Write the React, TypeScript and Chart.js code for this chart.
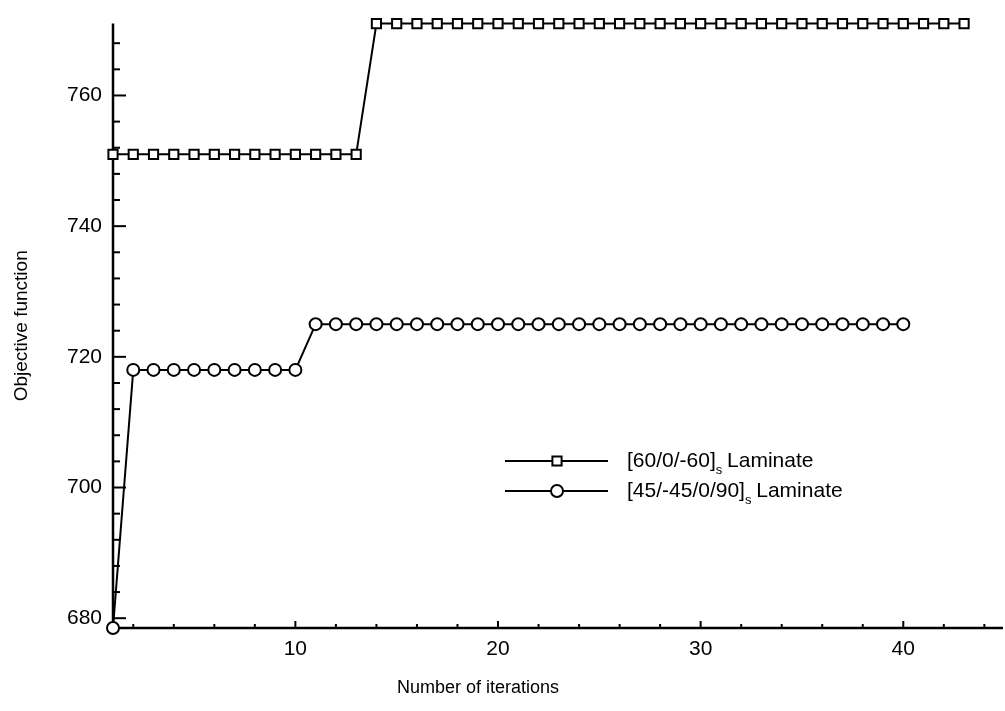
import React, { useEffect, useRef } from 'react';
import { Chart, registerables } from 'chart.js';

Chart.register(...registerables);

// ---- data ----
const iterationsA = [1, 2, 3, 4, 5, 6, 7, 8, 9, 10, 11, 12, 13, 14, 15, 16, 17, 18, 19, 20, 21, 22, 23, 24, 25, 26, 27, 28, 29, 30, 31, 32, 33, 34, 35, 36, 37, 38, 39, 40, 41, 42, 43];
const laminateA = [751, 751, 751, 751, 751, 751, 751, 751, 751, 751, 751, 751, 751, 771, 771, 771, 771, 771, 771, 771, 771, 771, 771, 771, 771, 771, 771, 771, 771, 771, 771, 771, 771, 771, 771, 771, 771, 771, 771, 771, 771, 771, 771];
const iterationsB = [1, 2, 3, 4, 5, 6, 7, 8, 9, 10, 11, 12, 13, 14, 15, 16, 17, 18, 19, 20, 21, 22, 23, 24, 25, 26, 27, 28, 29, 30, 31, 32, 33, 34, 35, 36, 37, 38, 39, 40];
const laminateB = [678.5, 718, 718, 718, 718, 718, 718, 718, 718, 718, 725, 725, 725, 725, 725, 725, 725, 725, 725, 725, 725, 725, 725, 725, 725, 725, 725, 725, 725, 725, 725, 725, 725, 725, 725, 725, 725, 725, 725, 725];
const labelA = '[60/0/-60]';
const labelB = '[45/-45/0/90]';
const labelSub = 's';
const labelTail = ' Laminate';
const xTickLabels = [10, 20, 30, 40];
const yTickLabels = [680, 700, 720, 740, 760];
const xMinorTicks = [2, 4, 6, 8, 10, 12, 14, 16, 18, 20, 22, 24, 26, 28, 30, 32, 34, 36, 38, 40, 42, 44];
const yMinorTicks = [680, 684, 688, 692, 696, 700, 704, 708, 712, 716, 720, 724, 728, 732, 736, 740, 744, 748, 752, 756, 760, 764, 768];
const xTitle = 'Number of iterations';
const yTitle = 'Objective function';

const FONT = '"Liberation Sans", Arial, Helvetica, sans-serif';

const axesPlugin = {
  id: 'axesTicks',
  beforeDatasetsDraw(chart: any) {
    const { ctx, chartArea } = chart;
    const xs = chart.scales.x;
    const ys = chart.scales.y;
    ctx.save();
    ctx.strokeStyle = '#000';
    ctx.lineCap = 'butt';
    // axes lines
    ctx.lineWidth = 2.5;
    ctx.beginPath();
    ctx.moveTo(chartArea.left, chartArea.top);
    ctx.lineTo(chartArea.left, chartArea.bottom);
    ctx.lineTo(chart.width - 2, chartArea.bottom);
    ctx.stroke();
    // y ticks (inside)
    ctx.lineWidth = 2;
    yMinorTicks.forEach((v) => {
      const py = ys.getPixelForValue(v);
      const len = v % 20 === 0 ? 13 : 7;
      ctx.beginPath();
      ctx.moveTo(chartArea.left, py);
      ctx.lineTo(chartArea.left + len, py);
      ctx.stroke();
    });
    // x ticks (inside, upwards)
    xMinorTicks.forEach((v) => {
      const px = xs.getPixelForValue(v);
      const len = v % 10 === 0 ? 7 : 4;
      ctx.beginPath();
      ctx.moveTo(px, chartArea.bottom);
      ctx.lineTo(px, chartArea.bottom - len);
      ctx.stroke();
    });
    ctx.restore();
  },
  afterDraw(chart: any) {
    const { ctx } = chart;
    ctx.save();
    // x title
    ctx.fillStyle = '#000';
    ctx.font = `18px ${FONT}`;
    ctx.textAlign = 'center';
    ctx.textBaseline = 'middle';
    ctx.fillText(xTitle, 478, 688);

    // legend
    const rows = [
      { text: labelA, style: 'rect', y: 461 },
      { text: labelB, style: 'circle', y: 491 },
    ];
    rows.forEach((r) => {
      ctx.strokeStyle = '#000';
      ctx.lineWidth = 2;
      ctx.beginPath();
      ctx.moveTo(505, r.y);
      ctx.lineTo(608, r.y);
      ctx.stroke();
      ctx.fillStyle = '#fff';
      ctx.beginPath();
      if (r.style === 'rect') {
        ctx.rect(557 - 4.6, r.y - 4.6, 9.2, 9.2);
      } else {
        ctx.arc(557, r.y, 6, 0, Math.PI * 2);
      }
      ctx.fill();
      ctx.stroke();
      ctx.fillStyle = '#000';
      ctx.textAlign = 'left';
      ctx.textBaseline = 'middle';
      ctx.font = `21px ${FONT}`;
      let x = 627;
      ctx.fillText(r.text, x, r.y);
      x += ctx.measureText(r.text).width;
      ctx.font = `13px ${FONT}`;
      ctx.fillText(labelSub, x, r.y + 9);
      x += ctx.measureText(labelSub).width - 1;
      ctx.font = `21px ${FONT}`;
      ctx.fillText(labelTail, x, r.y);
    });
    ctx.restore();
  },
};

export default function App() {
  const ref = useRef<HTMLCanvasElement | null>(null);
  useEffect(() => {
    if (!ref.current) return;
    Chart.defaults.font.family = FONT;
    Chart.defaults.color = '#000';
    const chart = new Chart(ref.current, {
      type: 'line',
      data: {
        datasets: [
          {
            label: labelA + labelSub + labelTail,
            data: iterationsA.map((x, i) => ({ x, y: laminateA[i] })),
            borderColor: '#000',
            borderWidth: 2,
            backgroundColor: '#fff',
            pointStyle: 'rect',
            pointRadius: 6.5,
            pointBorderWidth: 2,
            pointBackgroundColor: '#fff',
            pointBorderColor: '#000',
            tension: 0,
            clip: false as any,
          },
          {
            label: labelB + labelSub + labelTail,
            data: iterationsB.map((x, i) => ({ x, y: laminateB[i] })),
            borderColor: '#000',
            borderWidth: 2,
            backgroundColor: '#fff',
            pointStyle: 'circle',
            pointRadius: 6,
            pointBorderWidth: 2,
            pointBackgroundColor: '#fff',
            pointBorderColor: '#000',
            tension: 0,
            clip: false as any,
          },
        ],
      },
      options: {
        animation: false,
        responsive: false,
        layout: { padding: { top: 0, right: 0, left: 0, bottom: 0 } },
        plugins: {
          legend: { display: false },
          tooltip: { enabled: false },
        },
        scales: {
          x: {
            type: 'linear',
            min: 1,
            max: 44.6,
            grid: { display: false, drawTicks: false },
            border: { display: false },
            afterBuildTicks: (scale: any) => {
              scale.ticks = xTickLabels.map((v) => ({ value: v }));
            },
            afterFit: (scale: any) => {
              scale.height = 83;
            },
            ticks: {
              autoSkip: false,
              maxRotation: 0,
              padding: 9,
              font: { size: 21 },
              color: '#000',
            },
          },
          y: {
            type: 'linear',
            min: 678.5,
            max: 771,
            grid: { display: false, drawTicks: false },
            border: { display: false },
            afterBuildTicks: (scale: any) => {
              scale.ticks = yTickLabels.map((v) => ({ value: v }));
            },
            afterFit: (scale: any) => {
              scale.width = 113;
            },
            ticks: {
              autoSkip: false,
              padding: 11,
              font: { size: 21 },
              color: '#000',
            },
            title: {
              display: true,
              text: yTitle,
              font: { size: 19 },
              color: '#000',
              padding: { top: 10, bottom: 0 },
            },
          },
        },
      },
      plugins: [axesPlugin],
    });
    return () => chart.destroy();
  }, []);
  return (
    <div style={{ position: 'absolute', left: 0, top: 0, width: 1005, height: 711, background: '#fff' }}>
      <canvas ref={ref} width={1005} height={711} />
    </div>
  );
}
